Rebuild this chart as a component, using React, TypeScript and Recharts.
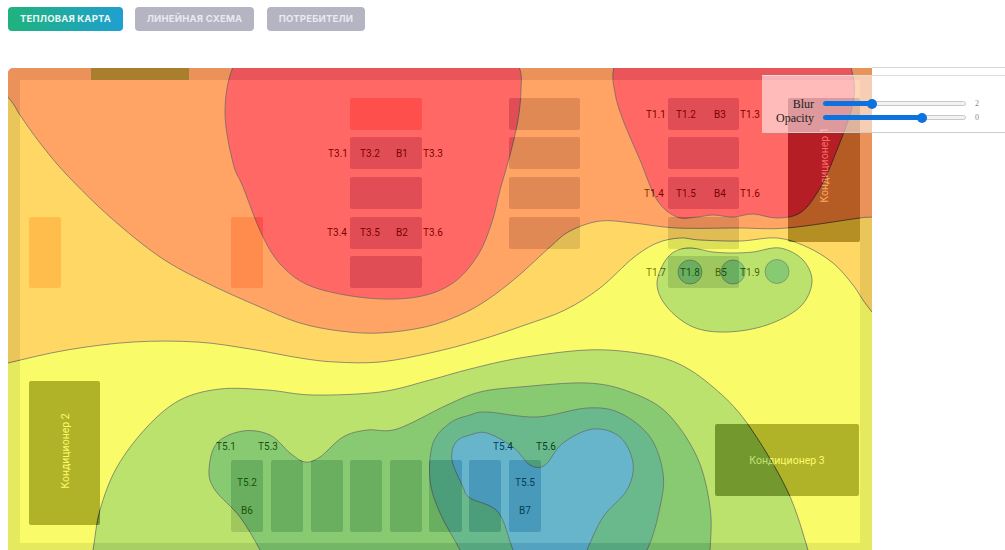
import React from "react";
import { ScatterChart, Scatter, XAxis, YAxis, ReferenceArea } from "recharts";

// Floor plan units are picture pixels
const planDomainX = [8, 872];
const planDomainY = [68, 550];

const orangeEdge = [
  [-40, 40], [8, 97], [20, 115], [40, 143], [67, 175], [110, 217], [160, 257], [207, 283], [260, 307], [300, 323], [340, 331], [380, 333],
  [425, 327], [460, 315], [487, 300], [517, 277], [550, 247], [570, 231], [600, 221], [633, 223], [677, 228], [738, 228], [787, 228], [860, 218],
  [872, 217], [930, 210], [930, 620], [-40, 620],
];
const yellowEdge = [
  [-40, 375], [8, 363], [67, 350], [133, 342], [197, 342], [250, 349], [300, 358], [335, 362], [380, 362], [430, 353], [480, 340], [525, 325], [565, 310],
  [600, 288], [633, 258], [657, 243], [680, 238], [700, 240], [740, 241], [777, 238], [807, 247], [833, 263], [853, 285], [872, 312], [930, 380], [930, 620], [-40, 620],
];
const greenLightEdge = [
  [88, 575], [93, 550], [100, 510], [117, 467], [147, 427], [180, 400], [220, 389], [267, 390], [313, 395], [380, 392], [430, 380], [470, 369],
  [520, 358], [587, 350], [637, 353], [677, 363], [713, 387], [747, 423], [787, 490], [808, 550], [815, 580],
];
const greenSmallEdge = [
  [657, 283], [668, 257], [687, 248], [713, 252], [733, 253], [753, 252], [780, 248], [803, 260], [812, 282], [800, 307], [767, 325], [727, 332], [693, 327], [667, 307],
];
const greenEdge = [
  [209, 470], [217, 443], [243, 431], [270, 435], [290, 453], [305, 462], [320, 457], [343, 437], [367, 430], [397, 429], [447, 405], [480, 392],
  [520, 387], [587, 383], [630, 392], [667, 413], [697, 457], [710, 507], [710, 550], [705, 590], [280, 590], [260, 550], [240, 517], [215, 490],
];
const tealEdge = [
  [430, 480], [433, 443], [450, 423], [470, 415], [487, 412], [537, 417], [587, 408], [620, 413], [650, 437], [663, 473], [660, 507], [647, 550], [620, 590], [480, 590], [460, 550], [440, 513],
];
const blueEdge = [
  [452, 460], [456, 442], [470, 435], [487, 433], [513, 447], [530, 465], [545, 465], [563, 443], [593, 429], [620, 437], [633, 463], [627, 490], [603, 517], [587, 550],
  [570, 590], [530, 590], [513, 550], [498, 512], [470, 498], [463, 487],
];
const redHallEdge = [
  [225, 113], [233, 67], [260, 30], [500, 40], [519, 67], [521, 90], [518, 120], [510, 155], [500, 190], [492, 222], [478, 255], [453, 283], [417, 297], [367, 298], [313, 287], [283, 267], [263, 237], [243, 187], [233, 163],
];
const redWingEdge = [
  [615, 93], [614, 67], [630, 30], [835, 30], [851, 67], [853, 103], [833, 160], [817, 193], [800, 213], [777, 218], [753, 214], [733, 217], [713, 215], [697, 217], [677, 217], [657, 200], [640, 160], [623, 120],
];
const hotSpots = [
  { x: 690, y: 272 },
  { x: 733, y: 272 },
  { x: 777, y: 271.5 },
];

const wallBands = [
  [8, 872, 68, 80],
  [8, 20, 80, 543],
  [860, 872, 80, 543],
  [8, 872, 543, 550],
];
const tableBlocks = [
  [350, 422, 137, 169], [350, 422, 177, 209], [350, 422, 217, 249], [350, 422, 256, 288],
  [509, 580, 98, 130], [509, 580, 137, 169], [509, 580, 177, 209], [509, 580, 217, 249],
  [668, 739, 98, 130], [668, 739, 137, 169], [668, 739, 177, 209], [668, 739, 217, 249], [668, 739, 256, 288],
  [231, 263, 460, 532], [271, 303, 460, 532], [311, 343, 460, 532], [350, 382, 460, 532],
  [390, 422, 460, 532], [429, 462, 460, 532], [469, 501, 460, 532], [509, 541, 460, 532],
];
const pinkBlocks = [
  [350, 422, 98, 130],
  [231, 263, 217, 288],
  [29, 61, 217, 288],
];
const doorBlocks = [[91, 189, 68, 80]];
const coolerBlocks = [
  [29, 100, 381, 525],
  [788, 860, 98, 242],
  [715, 859, 424, 496],
];

const seatLabels = [
  { x: 338, y: 153, text: "T3.1" }, { x: 370, y: 153, text: "T3.2" }, { x: 402, y: 153, text: "B1" }, { x: 433, y: 153, text: "T3.3" },
  { x: 337, y: 232, text: "T3.4" }, { x: 370, y: 232, text: "T3.5" }, { x: 402, y: 232, text: "B2" }, { x: 433, y: 232, text: "T3.6" },
  { x: 656, y: 114, text: "T1.1" }, { x: 686, y: 114, text: "T1.2" }, { x: 720, y: 114, text: "B3" }, { x: 750, y: 114, text: "T1.3" },
  { x: 654, y: 193, text: "T1.4" }, { x: 686, y: 193, text: "T1.5" }, { x: 720, y: 193, text: "B4" }, { x: 750, y: 193, text: "T1.6" },
  { x: 656, y: 272, text: "T1.7" }, { x: 690, y: 272, text: "T1.8" }, { x: 721, y: 272, text: "B5" }, { x: 750, y: 272, text: "T1.9" },
  { x: 226, y: 446, text: "T5.1" }, { x: 268, y: 446, text: "T5.3" }, { x: 247, y: 482, text: "T5.2" }, { x: 247, y: 510, text: "B6" },
  { x: 503, y: 446, text: "T5.4" }, { x: 546, y: 446, text: "T5.6" }, { x: 525, y: 482, text: "T5.5" }, { x: 525, y: 510, text: "B7" },
];
const coolerLabels = [
  { x: 824, y: 165, text: "Кондиционер 1", rotate: -90 },
  { x: 65, y: 451, text: "Кондиционер 2", rotate: -90 },
  { x: 787, y: 460, text: "Кондиционер 3", rotate: 0 },
];

const tabs = [
  { text: "ТЕПЛОВАЯ КАРТА", left: 8, width: 115, active: true },
  { text: "ЛИНЕЙНАЯ СХЕМА", left: 135, width: 119, active: false },
  { text: "ПОТРЕБИТЕЛИ", left: 267, width: 98, active: false },
];
const sliders = [
  { name: "Blur", y: 104, thumb: 872, value: "2" },
  { name: "Opacity", y: 118, thumb: 922, value: "0" },
];

const toPoints = (edge: number[][]) => edge.map(([x, y]) => ({ x, y }));

// closed Catmull-Rom, so the contour passes through the points
const smoothClosed = (context: any) => {
  let pts: number[][] = [];
  return {
    areaStart() {},
    areaEnd() {},
    lineStart() {
      pts = [];
    },
    point(x: number, y: number) {
      pts.push([x, y]);
    },
    lineEnd() {
      const n = pts.length;
      if (!n) return;
      context.moveTo(pts[0][0], pts[0][1]);
      for (let i = 0; i < n; i++) {
        const a = pts[(i - 1 + n) % n];
        const b = pts[i];
        const c = pts[(i + 1) % n];
        const d = pts[(i + 2) % n];
        context.bezierCurveTo(b[0] + (c[0] - a[0]) / 6, b[1] + (c[1] - a[1]) / 6, c[0] - (d[0] - b[0]) / 6, c[1] - (d[1] - b[1]) / 6, c[0], c[1]);
      }
      context.closePath();
    },
  };
};

const noDot = () => <g />;

const contours = [
  { edge: orangeEdge, fill: "rgb(255,190,0)" },
  { edge: yellowEdge, fill: "rgb(247,250,5)" },
  { edge: greenLightEdge, fill: "rgb(145,207,15)" },
  { edge: greenSmallEdge, fill: "rgb(145,207,15)" },
  { edge: greenEdge, fill: "rgb(57,168,20)" },
  { edge: tealEdge, fill: "rgb(8,140,64)" },
  { edge: blueEdge, fill: "rgb(3,132,170)" },
  { edge: redHallEdge, fill: "rgb(255,5,0)" },
  { edge: redWingEdge, fill: "rgb(255,5,0)" },
];

function PlanAxes() {
  return (
    <>
      <XAxis type="number" dataKey="x" domain={planDomainX} allowDataOverflow hide />
      <YAxis type="number" dataKey="y" domain={planDomainY} allowDataOverflow reversed hide />
    </>
  );
}

const blockAreas = (blocks: number[][], fill: string, prefix: string, radius = 2) =>
  blocks.map(([x1, x2, y1, y2], i) => (
    <ReferenceArea key={`${prefix}-${i}`} x1={x1} x2={x2} y1={y1} y2={y2} fill={fill} fillOpacity={1} stroke="none" radius={radius} />
  ));

const seatText = (opacity: number) => (p: any) => (
  <text x={p.cx} y={p.cy} textAnchor="middle" dominantBaseline="central" fontSize={10} fontFamily="Roboto, sans-serif" fill="#000" fillOpacity={opacity}>
    {p.payload.text}
  </text>
);

export default function App() {
  const chartSize = { width: 864, height: 482, margin: { top: 0, right: 0, bottom: 0, left: 0 } };
  return (
    <div style={{ position: "absolute", left: 0, top: 0, width: 1005, height: 550, overflow: "hidden", background: "#fff", fontFamily: "Inter, sans-serif" }}>
      {tabs.map((t) => (
        <div
          key={t.text}
          style={{
            position: "absolute", left: t.left, top: 7, width: t.width, height: 24, borderRadius: 4, lineHeight: "24px", textAlign: "center",
            color: t.active ? "#e8f8f2" : "#e9e9ef", fontSize: 9.5, fontWeight: 700, letterSpacing: 0.2,
            background: t.active ? "linear-gradient(90deg, #1fb37c, #1f9fd2)" : "#b4b4c2",
          }}
        >
          {t.text}
        </div>
      ))}

      {/* plan underneath */}
      <div style={{ position: "absolute", left: 8, top: 68, borderRadius: "5px 0 0 0", overflow: "hidden" }}>
        <ScatterChart {...chartSize}>
          {PlanAxes()}
          {blockAreas(wallBands, "#ccd0e2", "wall", 0)}
          {blockAreas(tableBlocks, "#b4bbd4", "table")}
          {blockAreas(pinkBlocks, "#ffc0c0", "pink")}
          {blockAreas(doorBlocks, "#28a070", "door", 0)}
          {blockAreas(coolerBlocks, "#46465c", "cooler")}
          <Scatter data={seatLabels} isAnimationActive={false} shape={seatText(1)} />
          <Scatter
            data={coolerLabels}
            isAnimationActive={false}
            shape={(p: any) => (
              <text x={p.cx} y={p.cy} textAnchor="middle" dominantBaseline="central" fontSize={10.5} fontFamily="Roboto, sans-serif" fill="#fff" transform={`rotate(${p.payload.rotate} ${p.cx} ${p.cy})`}>
                {p.payload.text}
              </text>
            )}
          />
        </ScatterChart>
      </div>

      {/* heat layer, opaque bands under one group opacity */}
      <div style={{ position: "absolute", left: 8, top: 68, width: 864, height: 482, opacity: 0.6, background: "rgb(255,105,0)", borderRadius: "5px 0 0 0", overflow: "hidden" }}>
        <ScatterChart {...chartSize}>
          {PlanAxes()}
          {contours.map((c, i) => (
            <Scatter
              key={i}
              data={toPoints(c.edge)}
              isAnimationActive={false}
              shape={noDot}
              lineJointType={smoothClosed as any}
              line={{ fill: c.fill, stroke: "#000", strokeWidth: 0.7 }}
            />
          ))}
          <Scatter
            data={hotSpots}
            isAnimationActive={false}
            shape={(p: any) => <circle cx={p.cx} cy={p.cy} r={12} fill="rgb(57,168,20)" stroke="#000" strokeWidth={0.5} />}
          />
          <Scatter data={seatLabels} isAnimationActive={false} shape={seatText(0.25)} />
        </ScatterChart>
      </div>

      {/* blur / opacity panel */}
      <div style={{ position: "absolute", left: 872, top: 67, width: 133, height: 1, background: "#d8d8d8" }} />
      <div style={{ position: "absolute", left: 762, top: 75, width: 243, height: 58, boxSizing: "border-box", background: "rgba(255,255,255,0.55)", borderTop: "1px solid #ddd", borderBottom: "1px solid #ccc" }} />
      <div style={{ position: "absolute", left: 872, top: 76, width: 133, height: 56, background: "#fff" }} />
      {sliders.map((s) => (
        <React.Fragment key={s.name}>
          <div style={{ position: "absolute", left: 740, width: 74, top: s.y - 8, height: 16, lineHeight: "16px", textAlign: "right", fontFamily: "'Liberation Serif', serif", fontSize: 12, color: "#222" }}>{s.name}</div>
          <div style={{ position: "absolute", left: 823, width: 143, top: s.y - 3, height: 5, boxSizing: "border-box", background: "#f2f2f2", border: "1px solid #c8c8c8", borderRadius: 3 }} />
          <div style={{ position: "absolute", left: 823, width: s.thumb - 823, top: s.y - 3, height: 5, background: "#0b72e0", borderRadius: 3 }} />
          <div style={{ position: "absolute", left: s.thumb - 5, top: s.y - 5, width: 10, height: 10, background: "#0b72e0", borderRadius: "50%" }} />
          <div style={{ position: "absolute", left: 975, top: s.y - 6, fontSize: 8, lineHeight: "12px", color: "#888", fontFamily: "'Liberation Serif', serif" }}>{s.value}</div>
        </React.Fragment>
      ))}
    </div>
  );
}
